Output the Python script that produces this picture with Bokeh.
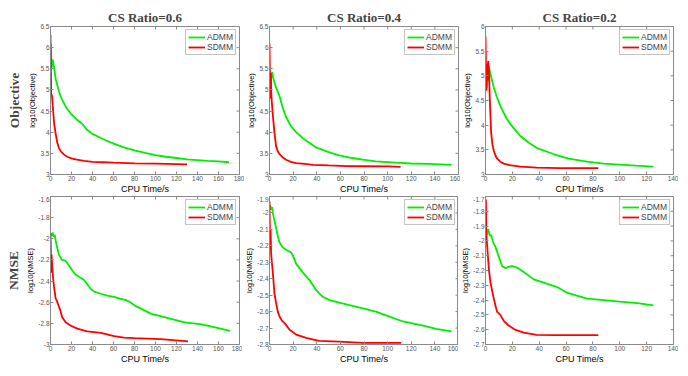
import math
from bokeh.plotting import figure
from bokeh.layouts import column, row
from bokeh.models import Range1d, FixedTicker, Title, Legend, LegendItem
from bokeh.embed import file_html
from bokeh.resources import INLINE

# ---------------- data ----------------
col_titles = ["CS Ratio=0.6", "CS Ratio=0.4", "CS Ratio=0.2"]
row_titles = ["Objective", "NMSE"]
series_names = ["ADMM", "SDMM"]

# Objective, CS ratio 0.6
obj06_admm_t = [0.3, 1, 2, 3, 5, 8, 10, 15, 20, 25, 30, 35, 40, 50, 60, 70, 80, 90, 100, 110, 120, 130, 140, 150, 160, 170]
obj06_admm_v = [6.1, 5.5, 5.72, 5.6, 5.25, 4.97, 4.82, 4.58, 4.42, 4.3, 4.2, 4.05, 3.96, 3.84, 3.73, 3.64, 3.57, 3.51, 3.46, 3.42, 3.39, 3.36, 3.34, 3.32, 3.31, 3.29]
obj06_sdmm_t = [0, 0.3, 0.7, 1.5, 2.5, 3.5, 5, 6.5, 8, 10, 13, 16, 20, 25, 32, 40, 50, 60, 80, 100, 120, 130]
obj06_sdmm_v = [6.3, 5.6, 4.9, 4.85, 4.5, 4.2, 3.95, 3.75, 3.63, 3.54, 3.47, 3.42, 3.38, 3.35, 3.32, 3.3, 3.29, 3.28, 3.265, 3.255, 3.245, 3.24]

# Objective, CS ratio 0.4
obj04_admm_t = [0.3, 0.8, 1.5, 2.2, 3, 5, 8.5, 11, 14, 18, 22.6, 30, 39.5, 50, 59, 70, 79, 90, 107, 120, 135, 145, 154]
obj04_admm_v = [5.2, 4.9, 5.3, 5.42, 5.3, 5.1, 4.85, 4.6, 4.36, 4.15, 4.0, 3.82, 3.64, 3.53, 3.45, 3.39, 3.35, 3.31, 3.28, 3.26, 3.25, 3.24, 3.23]
obj04_sdmm_t = [0, 0.3, 0.7, 1.1, 1.5, 2, 3, 4.2, 5.6, 7, 8.5, 11, 14, 18, 22.6, 30, 36.7, 50, 65, 80, 100, 111]
obj04_sdmm_v = [6.1, 5.5, 4.8, 5.4, 4.9, 4.7, 4.35, 3.99, 3.66, 3.55, 3.48, 3.41, 3.35, 3.3, 3.27, 3.25, 3.23, 3.215, 3.2, 3.195, 3.19, 3.18]

# Objective, CS ratio 0.2
obj02_admm_t = [0.3, 1, 1.8, 2.5, 4, 6.2, 8.5, 11, 16, 20, 26, 32, 38, 51, 62, 75.6, 88, 100, 112, 125]
obj02_admm_v = [5.0, 4.75, 5.1, 5.19, 5.0, 4.76, 4.57, 4.39, 4.12, 3.97, 3.78, 3.65, 3.54, 3.41, 3.32, 3.26, 3.22, 3.2, 3.18, 3.16]
obj02_sdmm_t = [0, 0.3, 0.6, 1, 1.5, 2, 2.6, 3.2, 4.2, 5.2, 6.2, 7.5, 8.7, 11, 13.6, 18, 26, 38, 55, 70, 84]
obj02_sdmm_v = [5.8, 5.3, 4.7, 5.25, 4.9, 5.3, 5.1, 4.52, 3.85, 3.6, 3.48, 3.38, 3.32, 3.26, 3.22, 3.19, 3.16, 3.14, 3.13, 3.13, 3.13]

# NMSE, CS ratio 0.6
nmse06_admm_t = [0, 1, 2, 3, 4, 5, 6.5, 8, 11, 14.4, 17.5, 20.7, 24, 27, 32, 35, 38, 41.5, 48, 55, 60.6, 66, 72, 76, 80, 88, 96, 104, 112, 128, 144, 158, 171]
nmse06_admm_v = [-1.95, -1.97, -1.94, -1.98, -1.96, -2.02, -2.09, -2.15, -2.2, -2.21, -2.25, -2.3, -2.34, -2.36, -2.39, -2.43, -2.47, -2.5, -2.52, -2.54, -2.55, -2.565, -2.58, -2.6, -2.63, -2.67, -2.71, -2.73, -2.75, -2.79, -2.81, -2.84, -2.87]
nmse06_sdmm_t = [0, 0.3, 0.6, 1, 1.6, 2.4, 3.2, 4.8, 6.5, 8, 9.5, 11, 14.4, 19, 25.5, 35, 48, 60.6, 70, 80, 105, 131]
nmse06_sdmm_v = [-1.95, -2.1, -2.32, -2.15, -2.25, -2.36, -2.44, -2.56, -2.6, -2.64, -2.68, -2.74, -2.79, -2.82, -2.85, -2.875, -2.89, -2.92, -2.935, -2.94, -2.95, -2.97]

# NMSE, CS ratio 0.4
nmse04_admm_t = [0, 0.7, 1.4, 2.3, 2.8, 4, 5.6, 7, 8.5, 11.3, 15.5, 18.3, 19.8, 22.6, 28, 34, 39.5, 45, 50.8, 59, 67.7, 79, 90, 101.6, 113, 130, 141, 154]
nmse04_admm_v = [-1.95, -1.96, -1.98, -1.965, -2.0, -2.04, -2.09, -2.14, -2.18, -2.21, -2.23, -2.24, -2.26, -2.31, -2.36, -2.41, -2.47, -2.51, -2.53, -2.545, -2.56, -2.58, -2.6, -2.63, -2.66, -2.685, -2.705, -2.72]
nmse04_sdmm_t = [0, 0.3, 0.6, 0.9, 1.4, 2, 2.8, 4.2, 5.6, 7, 8.5, 10.5, 12.7, 15, 17, 22.6, 31, 42, 59, 79, 95, 111.5]
nmse04_sdmm_v = [-1.93, -2.1, -2.22, -2.1, -2.25, -2.3, -2.36, -2.49, -2.55, -2.6, -2.63, -2.655, -2.67, -2.69, -2.71, -2.74, -2.76, -2.778, -2.782, -2.79, -2.79, -2.79]

# NMSE, CS ratio 0.2
nmse02_admm_t = [0, 1.2, 2, 3.2, 4.2, 5.7, 7.4, 10, 12.4, 14.9, 17, 19.8, 23.5, 28.5, 36, 46, 53, 60.7, 68, 75.6, 88, 100, 113, 125]
nmse02_admm_v = [-1.98, -1.95, -1.92, -1.965, -1.96, -2.01, -2.04, -2.11, -2.17, -2.185, -2.175, -2.17, -2.18, -2.21, -2.26, -2.29, -2.31, -2.35, -2.37, -2.39, -2.4, -2.41, -2.42, -2.435]
nmse02_sdmm_t = [0.3, 0.6, 1.2, 2.5, 3.7, 5, 6.2, 7.5, 8.7, 11, 13.6, 17, 22, 28.5, 38, 51, 65, 84]
nmse02_sdmm_v = [-1.72, -1.95, -2.03, -2.19, -2.28, -2.34, -2.39, -2.44, -2.48, -2.5, -2.54, -2.57, -2.6, -2.62, -2.635, -2.637, -2.637, -2.637]

# axis ticks
xticks_180 = [0, 20, 40, 60, 80, 100, 120, 140, 160, 180]
xticks_160 = [0, 20, 40, 60, 80, 100, 120, 140, 160]
xticks_140 = [0, 20, 40, 60, 80, 100, 120, 140]
yticks_obj65 = [3, 3.5, 4, 4.5, 5, 5.5, 6, 6.5]
yticks_obj6 = [3, 3.5, 4, 4.5, 5, 5.5, 6]
yticks_nmse06 = [-3, -2.8, -2.6, -2.4, -2.2, -2, -1.8, -1.6]
yticks_nmse04 = [-2.8, -2.7, -2.6, -2.5, -2.4, -2.3, -2.2, -2.1, -2, -1.9]
yticks_nmse02 = [-2.7, -2.6, -2.5, -2.4, -2.3, -2.2, -2.1, -2, -1.9, -1.8, -1.7]

GREEN = "#00ee00"
RED = "#ff0000"
AXC = "#8a8a8a"
TXC = "#555555"
SANS = "Liberation Sans"
SERIF = "Liberation Serif"


def lab(v):
    return "%g" % v


def make(series, xticks, yticks, ylabel, frame_w, frame_h, borders, title=None, rowtitle=None,
         row_standoff=8):
    p = figure(frame_width=frame_w, frame_height=frame_h,
               x_range=Range1d(xticks[0], xticks[-1]), y_range=Range1d(yticks[0], yticks[-1]),
               output_backend="svg", toolbar_location=None,
               min_border_left=borders[0], min_border_right=borders[1],
               min_border_top=borders[2], min_border_bottom=borders[3])
    p.xgrid.visible = False
    p.ygrid.visible = False
    p.outline_line_color = AXC
    p.outline_line_width = 1
    p.background_fill_color = "white"
    p.border_fill_color = "white"
    # tick marks along the top and right edges (MATLAB box style)
    p.scatter(xticks, [yticks[-1]] * len(xticks), marker="dash", angle=math.pi / 2, size=6,
              line_color=AXC, line_width=1)
    p.scatter([xticks[-1]] * len(yticks), yticks, marker="dash", size=6,
              line_color=AXC, line_width=1)
    renderers = []
    for (t, v), color in zip(series, [GREEN, RED]):
        r = p.line(t, v, line_color=color, line_width=1.8)
        renderers.append(r)
    for ax, ticks in ((p.xaxis[0], xticks), (p.yaxis[0], yticks)):
        ax.ticker = FixedTicker(ticks=ticks)
        ax.major_label_overrides = {t: lab(t) for t in ticks}
        ax.minor_tick_line_color = None
        ax.major_tick_in = 3
        ax.major_tick_out = 0
        ax.axis_line_color = AXC
        ax.major_tick_line_color = AXC
        ax.major_label_text_font = SANS
        ax.major_label_text_font_size = "6.5px"
        ax.major_label_text_color = TXC
        ax.major_label_standoff = 1
        ax.axis_label_standoff = 0
        ax.axis_label_text_font = SANS
        ax.axis_label_text_font_style = "normal"
        ax.axis_label_text_color = "black"
    p.xaxis[0].axis_label = "CPU Time/s"
    p.xaxis[0].axis_label_text_font_size = "9px"
    p.yaxis[0].axis_label = ylabel
    p.yaxis[0].axis_label_text_font_size = "7.5px"
    legend = Legend(items=[LegendItem(label=n, renderers=[r]) for n, r in zip(series_names, renderers)],
                    location="top_right", label_text_font=SANS, label_text_font_size="8.5px",
                    glyph_width=17, glyph_height=8, label_height=9, label_standoff=2,
                    spacing=0, padding=2, margin=3, border_line_color=AXC,
                    background_fill_alpha=1.0)
    p.add_layout(legend, "center")
    if title:
        p.title.text = title
        p.title.align = "center"
        p.title.text_font = SERIF
        p.title.text_font_style = "bold"
        p.title.text_font_size = "13px"
        p.title.standoff = 4
    if rowtitle:
        p.add_layout(Title(text=rowtitle, align="center", text_font=SERIF, text_font_style="bold",
                           text_font_size="13.5px", standoff=row_standoff), "left")
    return p


p1 = make([(obj06_admm_t, obj06_admm_v), (obj06_sdmm_t, obj06_sdmm_v)], xticks_180, yticks_obj65,
          "log10(Objective)", 189, 148, (0, 5, 26, 0), col_titles[0], row_titles[0], 8)
p2 = make([(obj04_admm_t, obj04_admm_v), (obj04_sdmm_t, obj04_sdmm_v)], xticks_160, yticks_obj65,
          "log10(Objective)", 189, 148, (0, 2, 26, 0), col_titles[1])
p3 = make([(obj02_admm_t, obj02_admm_v), (obj02_sdmm_t, obj02_sdmm_v)], xticks_140, yticks_obj6,
          "log10(Objective)", 188, 148, (0, 5, 26, 0), col_titles[2])
p4 = make([(nmse06_admm_t, nmse06_admm_v), (nmse06_sdmm_t, nmse06_sdmm_v)], xticks_180, yticks_nmse06,
          "log10(NMSE)", 189, 148, (0, 3, 0, 0), None, row_titles[1], 6)
p5 = make([(nmse04_admm_t, nmse04_admm_v), (nmse04_sdmm_t, nmse04_sdmm_v)], xticks_160, yticks_nmse04,
          "log10(NMSE)", 189, 148, (0, 0, 0, 0))
p6 = make([(nmse02_admm_t, nmse02_admm_v), (nmse02_sdmm_t, nmse02_sdmm_v)], xticks_140, yticks_nmse02,
          "log10(NMSE)", 188, 148, (0, 5, 0, 0))

layout = column(row(p1, p2, p3), row(p4, p5, p6))

open("out.html", "w").write(file_html(layout, INLINE))
